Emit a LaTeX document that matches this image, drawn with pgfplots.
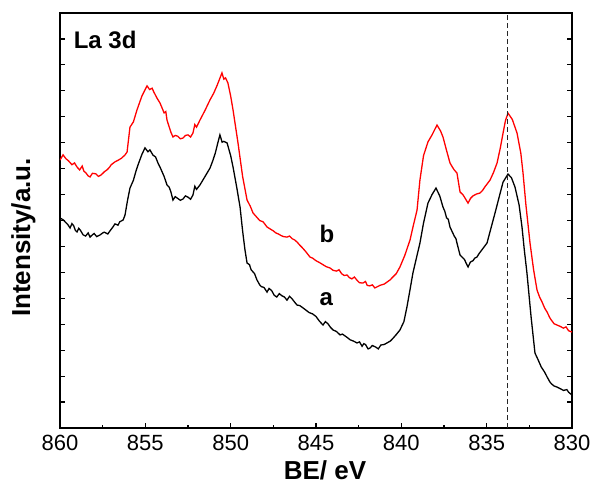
\documentclass[border=0pt]{standalone}
\usepackage{pgfplots}
\pgfplotsset{compat=1.18}
\usepackage{fontspec}
\setmainfont{Liberation Sans}
\begin{document}
\begin{tikzpicture}
\begin{axis}[
  scale only axis, width=512pt, height=415pt,
  x dir=reverse, xmin=830, xmax=860, ymin=0, ymax=16,
  xtick={830,835,...,860}, minor x tick num=1,
  ytick={0,1,...,16}, yticklabels={},
  tick align=inside, xtick pos=bottom, ytick pos=both,
  major tick length=5pt, minor tick length=3pt,
  tick style={black, line width=1.2pt},
  axis line style={line width=1.6pt},
  /pgf/number format/assume math mode=true,
  /pgf/number format/1000 sep={},
  xticklabel style={font=\fontsize{22}{24}\selectfont, yshift=-4pt},
  xlabel={\textbf{BE/ eV}}, ylabel={\textbf{Intensity/a.u.}},
  xlabel style={font=\fontsize{26}{28}\selectfont, xshift=9pt, yshift=-3pt},
  ylabel style={font=\fontsize{26}{28}\selectfont, yshift=14pt, xshift=-17pt},
  clip=true,
]
\addplot[black, line width=1.3pt] coordinates {
(860,8.10)(859.8,8.02)(859.7,7.95)(859.55,7.85)(859.41,7.71)(859.3,7.88)(859.2,7.80)(859.1,7.62)(859.0,7.56)(858.9,7.70)(858.8,7.62)(858.65,7.45)(858.5,7.40)(858.35,7.52)(858.24,7.36)(858.1,7.45)(858.0,7.50)(857.85,7.38)(857.66,7.44)(857.5,7.52)(857.4,7.55)(857.2,7.48)(857.07,7.60)(856.9,7.75)(856.78,7.87)(856.6,7.82)(856.5,7.95)(856.3,8.02)(856.19,8.21)(856.05,8.75)(855.90,9.25)(855.7,9.55)(855.55,9.90)(855.43,10.14)(855.2,10.55)(855.02,10.80)(854.85,10.65)(854.73,10.72)(854.55,10.52)(854.4,10.45)(854.25,10.20)(854.14,10.06)(853.9,9.70)(853.73,9.37)(853.6,9.28)(853.5,9.10)(853.38,8.79)(853.25,8.92)(853.1,8.85)(852.95,8.78)(852.79,8.83)(852.65,8.95)(852.5,8.90)(852.35,8.82)(852.21,8.98)(852.1,9.32)(852.0,9.20)(851.80,9.37)(851.5,9.70)(851.21,10.02)(851.05,10.30)(850.9,10.60)(850.75,11.00)(850.63,11.30)(850.5,11.02)(850.4,11.05)(850.21,10.99)(850.0,10.50)(849.86,10.06)(849.65,9.30)(849.45,8.52)(849.3,7.60)(849.16,6.86)(849.04,6.36)(848.9,6.30)(848.8,6.10)(848.6,5.95)(848.46,5.71)(848.3,5.52)(848.2,5.45)(848.05,5.42)(847.87,5.24)(847.75,5.38)(847.6,5.30)(847.45,5.12)(847.3,5.05)(847.15,5.18)(847.0,5.10)(846.85,5.05)(846.70,4.93)(846.55,5.08)(846.4,4.98)(846.25,4.85)(846.11,4.74)(845.95,4.72)(845.76,4.63)(845.6,4.55)(845.4,4.45)(845.2,4.40)(845.0,4.30)(844.8,4.12)(844.59,3.97)(844.45,4.10)(844.3,4.02)(844.15,3.88)(844.0,3.78)(843.8,3.72)(843.59,3.59)(843.45,3.62)(843.3,3.55)(843.15,3.48)(843.0,3.40)(842.8,3.35)(842.60,3.28)(842.45,3.32)(842.3,3.15)(842.2,3.25)(842.1,3.22)(841.95,3.05)(841.84,3.08)(841.7,3.18)(841.5,3.12)(841.35,3.05)(841.2,3.20)(841.0,3.22)(840.84,3.28)(840.65,3.35)(840.5,3.45)(840.3,3.60)(840.08,3.78)(839.85,4.10)(839.67,4.67)(839.5,5.30)(839.32,5.98)(839.1,6.60)(838.91,7.13)(838.7,7.90)(838.44,8.67)(838.2,9.00)(837.97,9.25)(837.75,8.95)(837.56,8.52)(837.45,8.35)(837.35,8.10)(837.25,8.05)(837.15,7.75)(836.9,7.40)(836.8,7.30)(836.74,7.13)(836.56,6.67)(836.3,6.50)(836.2,6.35)(836.09,6.21)(835.95,6.40)(835.8,6.45)(835.7,6.55)(835.57,6.59)(835.45,6.72)(835.3,6.85)(834.98,7.13)(834.75,7.70)(834.51,8.29)(834.25,8.95)(834.04,9.48)(833.75,9.79)(833.55,9.65)(833.34,9.29)(833.1,8.60)(832.93,7.75)(832.8,6.90)(832.64,5.98)(832.4,4.30)(832.17,2.89)(832.0,2.65)(831.8,2.35)(831.6,2.15)(831.46,1.97)(831.3,1.78)(831.2,1.70)(831.05,1.62)(830.88,1.58)(830.7,1.52)(830.5,1.45)(830.3,1.48)(830.2,1.38)(830.0,1.27)
};
\addplot[red, line width=1.3pt] coordinates {
(860,10.33)(859.82,10.53)(859.65,10.38)(859.5,10.30)(859.3,10.15)(859.15,10.22)(859.0,10.06)(858.85,9.95)(858.7,10.10)(858.6,9.90)(858.5,9.85)(858.35,9.72)(858.24,9.68)(858.1,9.82)(857.9,9.80)(857.75,9.70)(857.6,9.75)(857.4,9.88)(857.25,9.95)(857.1,10.05)(857.0,10.15)(856.78,10.26)(856.6,10.32)(856.4,10.40)(856.2,10.52)(856.07,10.64)(855.90,11.60)(855.7,11.80)(855.49,12.26)(855.2,12.80)(854.90,13.19)(854.75,13.05)(854.6,13.10)(854.5,12.95)(854.3,12.70)(854.14,12.53)(853.9,12.15)(853.8,12.20)(853.73,11.87)(853.5,11.40)(853.38,11.22)(853.25,11.28)(853.1,11.25)(852.95,11.15)(852.79,11.18)(852.65,11.28)(852.5,11.30)(852.35,11.22)(852.21,11.37)(852.1,11.70)(852.0,11.60)(851.80,11.87)(851.5,12.25)(851.21,12.65)(851.0,12.90)(850.8,13.20)(850.51,13.69)(850.4,13.45)(850.3,13.50)(850.16,13.30)(850.0,12.80)(849.86,12.26)(849.57,10.99)(849.3,9.70)(849.04,8.79)(848.85,8.55)(848.69,8.29)(848.5,8.15)(848.3,8.00)(848.1,7.95)(847.87,7.75)(847.7,7.68)(847.5,7.60)(847.35,7.52)(847.2,7.48)(847.05,7.42)(846.9,7.38)(846.70,7.36)(846.55,7.40)(846.4,7.30)(846.25,7.25)(846.11,7.17)(845.95,7.05)(845.8,6.95)(845.6,6.80)(845.35,6.59)(845.2,6.55)(845.0,6.45)(844.8,6.38)(844.6,6.30)(844.4,6.22)(844.18,6.17)(844.0,6.08)(843.8,6.05)(843.65,6.10)(843.5,5.95)(843.35,5.88)(843.18,5.90)(843.05,5.80)(842.9,5.75)(842.75,5.82)(842.6,5.70)(842.45,5.60)(842.25,5.59)(842.1,5.65)(842.0,5.50)(841.85,5.48)(841.7,5.52)(841.55,5.40)(841.43,5.44)(841.25,5.50)(841.0,5.55)(840.85,5.62)(840.66,5.71)(840.5,5.82)(840.3,5.95)(840.08,6.21)(839.8,6.65)(839.49,7.25)(839.3,7.80)(839.08,8.40)(838.91,9.56)(838.7,10.50)(838.44,11.03)(838.2,11.30)(837.91,11.68)(837.7,11.45)(837.56,11.22)(837.35,10.70)(837.15,10.22)(837.0,10.05)(836.9,9.95)(836.74,9.83)(836.56,9.10)(836.4,9.00)(836.3,8.90)(836.09,8.67)(835.95,8.85)(835.8,8.95)(835.6,9.02)(835.39,9.06)(835.25,9.15)(835.1,9.30)(834.80,9.56)(834.6,9.85)(834.39,10.22)(834.2,10.80)(834.04,11.37)(833.9,11.85)(833.75,12.14)(833.5,11.90)(833.22,11.37)(833.0,10.60)(832.87,9.83)(832.7,8.60)(832.46,7.13)(832.25,6.10)(832.05,5.32)(831.9,5.05)(831.75,4.85)(831.6,4.62)(831.46,4.47)(831.3,4.25)(831.2,4.15)(831.05,4.02)(830.88,3.97)(830.7,3.92)(830.5,3.85)(830.35,3.90)(830.2,3.75)(830.0,3.70)
};
\addplot[black!85, dash pattern=on 5pt off 3pt, line width=0.9pt] coordinates {(833.8,0)(833.8,16)};
\node[anchor=base west, font=\fontsize{24}{26}\selectfont\bfseries] at (axis cs:859.4,14.65) {La 3d};
\node[anchor=base west, font=\fontsize{24}{26}\selectfont\bfseries] at (axis cs:845.0,7.17) {b};
\node[anchor=base west, font=\fontsize{24}{26}\selectfont\bfseries] at (axis cs:845.0,4.74) {a};
\end{axis}
\pgfresetboundingbox
\path (-60pt,-63pt) rectangle (533pt,428pt);
\end{tikzpicture}
\end{document}
